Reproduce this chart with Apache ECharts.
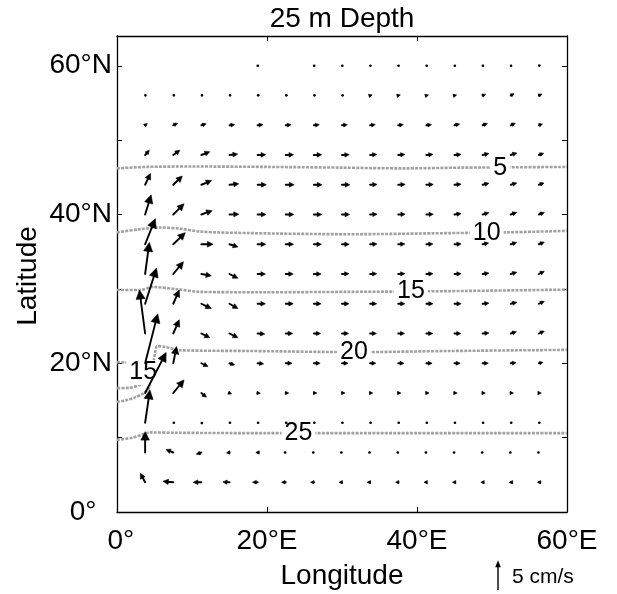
<!DOCTYPE html>
<html>
<head>
<meta charset="utf-8">
<script src="https://cdn.jsdelivr.net/npm/echarts@6/dist/echarts.min.js"></script>
<style>
  html, body { margin: 0; padding: 0; background: #fff; }
  #chart { width: 617px; height: 594px; }
</style>
</head>
<body>
<div id="chart"></div>
<script>
// Grid of velocity vectors: longitudes (°E) and latitudes (°N)
const lonCols = [3.75, 7.5, 11.25, 15, 18.75, 22.5, 26.25, 30, 33.75, 37.5, 41.25, 45, 48.75, 52.5, 56.25];
const latRows = [4, 8, 12, 16, 20, 24, 28, 32, 36, 40, 44, 48, 52, 56, 60];

// Eastward velocity u (cm/s), one row per latitude (south to north)
const uRows = [
  [-0.8, -1.7, -1.35, -1.1, -0.85, -0.7, -0.55, -0.5, -0.5, -0.45, -0.4, -0.35, -0.3, -0.25, -0.25],
  [0, -1.2, -0.85, -0.5, -0.3, -0.2, -0.2, -0.2, -0.2, -0.15, -0.15, -0.15, -0.15, -0.15, -0.15],
  [0.8, 0.2, 0.15, 0.15, 0.15, 0.15, 0.15, 0.15, 0.15, 0.15, 0.15, 0.15, 0.15, 0.15, 0.15],
  [3.5, 1.8, 0.85, 0.35, 0.45, 0.5, 0.5, 0.5, 0.45, 0.45, 0.45, 0.45, 0.45, 0.45, 0.4],
  [2.1, 0.55, 1.1, 0.85, 1.0, 1.05, 1.05, 1.0, 0.95, 0.95, 0.95, 0.95, 0.95, 0.9, 0.7],
  [-0.95, 1.0, 1.4, 1.4, 1.2, 1.15, 1.1, 1.1, 1.05, 1.05, 1.05, 1.05, 1.05, 0.95, 0.9],
  [1.9, 1.0, 1.65, 1.4, 1.3, 1.25, 1.2, 1.15, 1.1, 1.1, 1.1, 1.1, 1.05, 1.0, 0.9],
  [0.7, 1.7, 1.65, 1.4, 1.3, 1.25, 1.2, 1.15, 1.1, 1.1, 1.1, 1.1, 1.05, 1.0, 0.9],
  [1.7, 2.0, 1.95, 1.4, 1.35, 1.3, 1.25, 1.2, 1.15, 1.1, 1.1, 1.1, 1.0, 1.0, 0.9],
  [1.0, 1.8, 1.8, 1.55, 1.4, 1.35, 1.3, 1.25, 1.15, 1.15, 1.15, 1.1, 1.05, 1.0, 0.9],
  [0.9, 1.5, 1.7, 1.55, 1.45, 1.4, 1.35, 1.3, 1.15, 1.15, 1.15, 1.1, 1.05, 1.0, 0.85],
  [0.7, 1.1, 1.4, 1.35, 1.35, 1.3, 1.3, 1.2, 1.1, 1.1, 1.1, 1.1, 1.05, 1.0, 0.8],
  [0.35, 0.7, 0.8, 0.85, 0.9, 0.9, 0.9, 0.9, 0.85, 0.85, 0.85, 0.85, 0.8, 0.75, 0.6],
  [0.1, 0.2, 0.2, 0.2, 0.2, 0.2, 0.2, 0.2, 0.35, 0.35, 0.35, 0.35, 0.5, 0.55, 0.5],
  [null, null, null, null, 0.05, null, 0.1, 0.1, 0.1, 0.1, 0.1, 0.1, 0.1, 0.1, 0.15]
];

// Northward velocity v (cm/s), same layout as uRows
const vRows = [
  [1.5, 0.15, 0, 0.05, 0, 0, 0, 0, 0, 0, 0, 0, 0, 0, 0],
  [3.5, 0.5, -0.3, -0.05, 0, 0, 0, 0, 0, 0, 0, 0, 0, 0, 0],
  [5.5, 0, -0.1, 0, 0, 0, 0, 0, 0, 0, 0, 0, 0, 0, 0],
  [6.8, 2.2, -0.7, -0.15, -0.05, 0, 0, 0, 0, 0, 0, 0, 0, 0, 0],
  [8.3, 2.8, -0.55, -0.3, -0.1, 0, 0, 0, 0, 0, 0, 0, 0, 0.1, 0.15],
  [7.3, 2.3, -0.7, -0.7, -0.1, 0, 0, 0, 0, 0, 0, 0, 0.1, 0.3, 0.4],
  [6.0, 2.3, -0.8, -0.8, 0, 0, 0, 0, 0, 0, 0, 0, 0.1, 0.25, 0.4],
  [5.3, 2.05, -0.3, -0.7, 0, 0, 0, 0.05, 0.05, 0.05, 0.05, 0.05, 0.15, 0.3, 0.45],
  [4.3, 1.95, 0, -0.45, 0, 0, 0, 0, 0.05, 0.05, 0.05, 0.05, 0.2, 0.3, 0.35],
  [3.3, 1.8, 0.65, 0.05, 0, 0, 0, 0, 0.05, 0.05, 0.05, 0.15, 0.3, 0.35, 0.35],
  [1.9, 1.45, 0.7, 0.15, 0, 0, 0, 0, 0.05, 0.05, 0.05, 0.1, 0.25, 0.3, 0.3],
  [0.8, 0.8, 0.55, 0.15, 0.05, 0.05, 0.05, 0.05, 0.1, 0.1, 0.1, 0.1, 0.25, 0.35, 0.3],
  [0.3, 0.35, 0.25, 0.1, 0.1, 0.1, 0.1, 0.1, 0.1, 0.1, 0.1, 0.2, 0.3, 0.35, 0.2],
  [0.05, 0.05, 0.05, 0.05, 0.05, 0.05, 0.05, 0.05, 0.1, 0.1, 0.1, 0.1, 0.2, 0.3, 0.25],
  [null, null, null, null, 0, null, 0, 0, 0, 0, 0, 0, 0, 0, 0.05]
];

// Contour lines as [lon, lat] points
const contour5 = [[0, 46.2], [4, 46.4], [10, 46.45], [20, 46.4], [30, 46.3], [38, 46.2], [46, 46.3], [53, 46.35], [60, 46.4]];
const contour10 = [[0, 37.6], [2.9, 38.0], [5.7, 38.25], [8.4, 38.1], [11.1, 37.7], [17.7, 37.5], [31, 37.35], [44.4, 37.5], [52, 37.6], [60, 37.8]];
const contour15 = [[0, 29.85], [3.1, 29.85], [4.8, 30.25], [8, 29.95], [11.1, 29.6], [19, 29.55], [31, 29.6], [44.4, 29.7], [60, 29.9]];
const contour15West = [[0, 20.15], [1.1, 20.1], [1.9, 19.9], [3.2, 19.2], [4.4, 18.3], [4.1, 17.6], [3.1, 17.1], [1.7, 16.7], [0, 16.65]];
const contour20 = [[0, 14.8], [1.3, 15.05], [2.5, 15.45], [3.6, 16.0], [4.3, 16.7], [4.5, 18.0], [4.8, 19.75], [5.1, 21.5], [5.35, 22.3], [6.4, 22.2], [8.4, 21.75], [17.7, 21.65], [31.7, 21.5], [44.4, 21.65], [60, 21.8]];
const contour25 = [[0, 9.7], [2.1, 10.0], [3.5, 10.45], [4.5, 10.7], [8, 10.65], [20, 10.6], [35, 10.6], [50, 10.6], [60, 10.6]];

// Contour labels
const labelText = ['5', '10', '15', '20', '25', '15'];
const labelLon = [51.1, 49.3, 39.2, 31.6, 24.2, 3.5];
const labelLat = [46.3, 37.5, 29.65, 21.55, 10.6, 18.75];

// Tick labels
const xTickLabels = { 0: ' 0°', 20: '20°E', 40: '40°E', 60: '60°E' };
const yTickLabels = { 0: '0°  ', 20: '20°N', 40: '40°N', 60: '60°N' };

const refSpeed = 5;          // cm/s, reference arrow
const DEG_PER_CMS = 0.8;     // arrow length scale

const FONT = "'Liberation Sans', Arial, Helvetica, sans-serif";

const arrowData = [];
latRows.forEach((lat, i) => {
  lonCols.forEach((lon, j) => {
    const u = uRows[i][j], v = vRows[i][j];
    if (u !== null && v !== null) arrowData.push([lon, lat, u, v]);
  });
});

function renderArrow(params, api) {
  const lon = api.value(0), lat = api.value(1), u = api.value(2), v = api.value(3);
  const p0 = api.coord([lon, lat]);
  const p1 = api.coord([lon + u * DEG_PER_CMS, lat + v * DEG_PER_CMS]);
  const dx = p1[0] - p0[0], dy = p1[1] - p0[1];
  const len = Math.hypot(dx, dy);
  if (len < 1.4) {
    return { type: 'circle', shape: { cx: p0[0] + dx / 2, cy: p0[1] + dy / 2, r: 1.35 }, style: { fill: '#000' } };
  }
  const ex = dx / len, ey = dy / len;
  const hl = Math.min(9, Math.max(3.4, 0.3 * len + 2.2));
  const hw = hl * 0.5;
  const bx = p1[0] - ex * hl, by = p1[1] - ey * hl;
  return {
    type: 'group',
    children: [
      { type: 'line', shape: { x1: p0[0], y1: p0[1], x2: bx + ex, y2: by + ey }, style: { stroke: '#000', lineWidth: 1.9, lineCap: 'round' } },
      { type: 'polygon', shape: { points: [[p1[0], p1[1]], [bx - ey * hw, by + ex * hw], [bx + ey * hw, by - ex * hw]] }, style: { fill: '#000', stroke: '#000', lineWidth: 0.6, lineJoin: 'round' } }
    ]
  };
}

function renderLabel(params, api) {
  const p = api.coord([api.value(0), api.value(1)]);
  return {
    type: 'text', x: p[0], y: p[1],
    style: {
      text: labelText[params.dataIndex], font: '25px ' + FONT, fill: '#000',
      align: 'center', verticalAlign: 'middle', backgroundColor: '#fff', padding: [0, 3]
    }
  };
}

function contourSeries(points) {
  return {
    type: 'line', data: points, symbol: 'none', smooth: 0.3, z: 2, silent: true,
    lineStyle: { color: '#a2a2a2', width: 2.6, type: [3, 1.2] }
  };
}

const axisCommon = {
  type: 'value',
  axisLine: { show: true, onZero: false, lineStyle: { color: '#000', width: 1.3 } },
  axisTick: { show: true, inside: true, length: 5, lineStyle: { color: '#000', width: 1 } },
  splitLine: { show: false }
};

const chart = echarts.init(document.getElementById('chart'), null, { renderer: 'canvas' });

chart.setOption({
  animation: false,
  backgroundColor: '#fff',
  grid: { left: 117, top: 36, right: 50, bottom: 82, containLabel: false, outerBoundsMode: 'none' },
  xAxis: [
    Object.assign({}, axisCommon, {
      min: 0, max: 60, interval: 20, position: 'bottom',
      axisLabel: { margin: 15, color: '#000', fontSize: 28, fontFamily: FONT, formatter: v => xTickLabels[v] || '' }
    }),
    Object.assign({}, axisCommon, {
      min: 0, max: 60, interval: 20, position: 'top', axisLabel: { show: false }
    })
  ],
  yAxis: [
    Object.assign({}, axisCommon, {
      min: 0, max: 64, interval: 10, position: 'left',
      axisLabel: { margin: 5, color: '#000', fontSize: 28, fontFamily: FONT, formatter: v => yTickLabels[v] || '' }
    }),
    Object.assign({}, axisCommon, {
      min: 0, max: 64, interval: 10, position: 'right', axisLabel: { show: false }
    })
  ],
  series: [
    contourSeries(contour5),
    contourSeries(contour10),
    contourSeries(contour15),
    contourSeries(contour15West),
    contourSeries(contour20),
    contourSeries(contour25),
    {
      type: 'custom', z: 3, silent: true,
      renderItem: renderLabel,
      data: labelLon.map((lon, i) => [lon, labelLat[i]])
    },
    {
      type: 'custom', z: 4, silent: true,
      renderItem: renderArrow,
      data: arrowData
    }
  ]
});

// Title, axis names and the reference arrow
const p0 = chart.convertToPixel({ gridIndex: 0 }, [0, 0]);
const pRef = chart.convertToPixel({ gridIndex: 0 }, [0, refSpeed * DEG_PER_CMS]);
const refLen = p0[1] - pRef[1];
const keyX = 498, keyY = 590;

chart.setOption({
  graphic: [
    { type: 'text', x: 342, y: 19, style: { text: '25 m Depth', font: '28px ' + FONT, fill: '#000', textAlign: 'center', textVerticalAlign: 'middle' } },
    { type: 'text', x: 342, y: 576, style: { text: 'Longitude', font: '28px ' + FONT, fill: '#000', textAlign: 'center', textVerticalAlign: 'middle' } },
    { type: 'text', x: 28, y: 276, rotation: Math.PI / 2, style: { text: 'Latitude', font: '28px ' + FONT, fill: '#000', textAlign: 'center', textVerticalAlign: 'middle' } },
    { type: 'line', shape: { x1: keyX, y1: keyY, x2: keyX, y2: keyY - refLen + 5 }, style: { stroke: '#000', lineWidth: 1.4 } },
    { type: 'polygon', shape: { points: [[keyX, keyY - refLen], [keyX - 2.8, keyY - refLen + 7], [keyX + 2.8, keyY - refLen + 7]] }, style: { fill: '#000' } },
    { type: 'text', x: 512, y: 577, style: { text: '5 cm/s', font: '21px ' + FONT, fill: '#000', textAlign: 'left', textVerticalAlign: 'middle' } }
  ]
});
</script>
</body>
</html>
